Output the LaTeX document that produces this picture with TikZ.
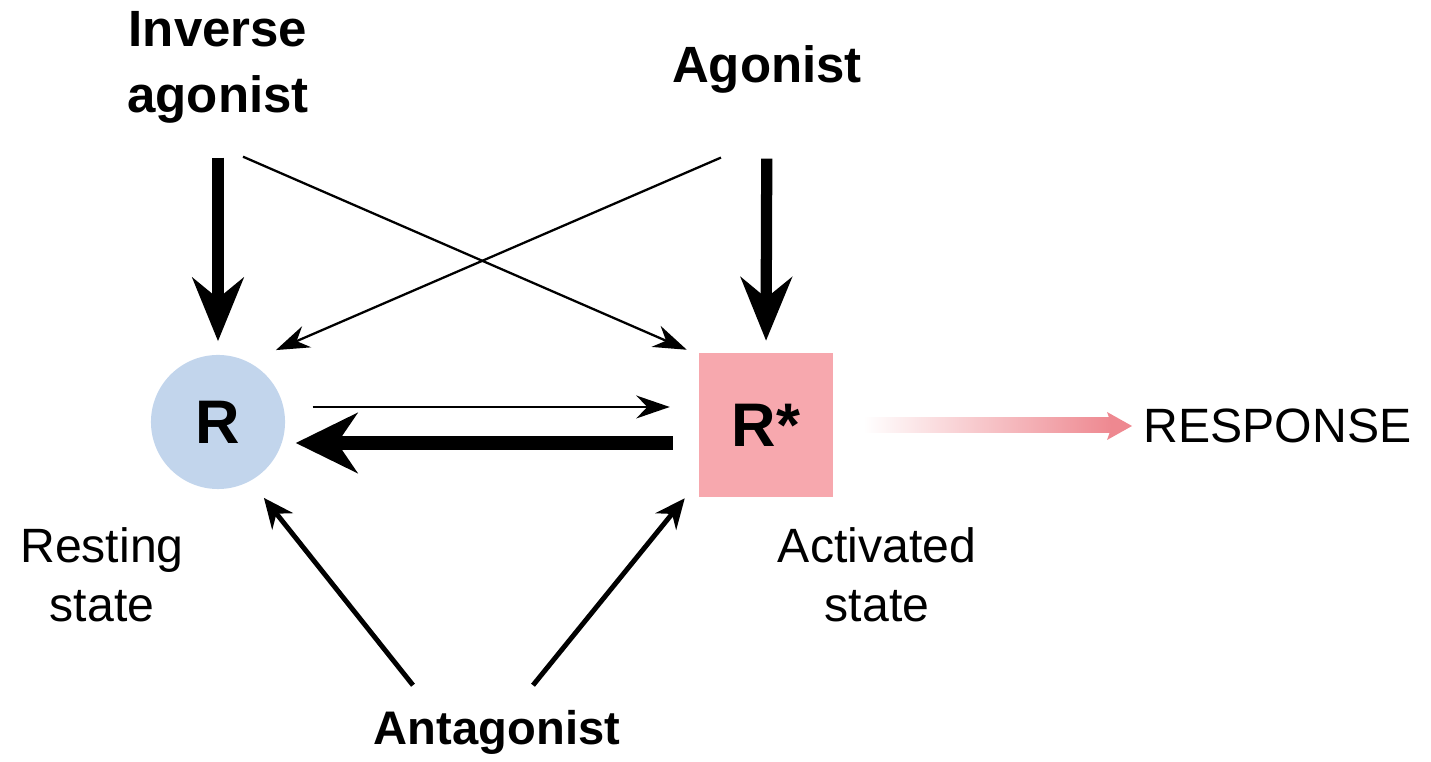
\documentclass[tikz,border=0pt]{standalone}
\usepackage{fontspec}
\setmainfont{Liberation Sans}
\usetikzlibrary{arrows.meta,calc}

\definecolor{restblue}{HTML}{C2D5EC}
\definecolor{actpink}{HTML}{F7A8AE}
\definecolor{resppink}{HTML}{EE8890}

\tikzset{
  ligand/.style={font=\fontsize{14.5}{18.8}\selectfont\bfseries, align=center, inner sep=0pt},
  statetext/.style={font=\fontsize{13.7}{16.8}\selectfont, align=center, inner sep=0pt},
  receptor/.style={font=\fontsize{17.5}{20}\selectfont\bfseries, inner sep=0pt},
  thinarrow/.style={line width=0.65pt, -{Stealth[length=9.5pt,width=6.5pt]}},
  heavyarrow/.style={line width=3.2pt, -{Stealth[length=18pt,width=14.5pt]}},
  backarrow/.style={line width=3.8pt, -{Stealth[length=17.5pt,width=17pt]}},
  blockarrow/.style={line width=1.4pt, -{Stealth[length=8.5pt,width=7.5pt]}},
}

\begin{document}
\begin{tikzpicture}[x=0.01cm, y=-0.01cm]
    \useasboundingbox (0,0) rectangle (1431,762);
    % 受容体
    \node[receptor, circle, fill=restblue, minimum size=1.34cm] (R) at (218,422) {R};
    \node[receptor, fill=actpink, minimum width=1.33cm, minimum height=1.43cm] (Rs) at (766,425) {R*};
    % ラベル
    \node[ligand] (inv) at (218,67) {Inverse\\agonist};
    \node[ligand] (ago) at (767,69) {Agonist};
    \node[ligand, font=\fontsize{13.4}{16}\selectfont\bfseries] (ant) at (497,732) {Antagonist};
    \node[statetext] (rest) at (102,575) {Resting\\state};
    \node[statetext] (act) at (877,575) {Activated\\state};
    \node[statetext, anchor=west] (resp) at (1143,426) {RESPONSE};

    % 矢印
    \draw[heavyarrow, shorten <=0.34cm, shorten >=0.13cm] (inv.south) -- (R.north);
    \draw[heavyarrow, shorten <=0.65cm, shorten >=0.12cm] (ago.south) -- (Rs.north);
    \draw[thinarrow] ($(inv.south)+(25,33)$) -- ($(Rs.north west)+(-12,-3)$);
    \draw[thinarrow] ($(ago.south)+(-46,64)$) -- ($(R.north east)+(10,-24)$);
    \draw[thinarrow] ($(R.east)+(27,-15)$) -- ($(Rs.west)+(-29,-18)$);
    \draw[backarrow] ($(Rs.west)+(-26,18)$) -- ($(R.east)+(10,21)$);
    \draw[blockarrow] ($(ant.north)+(-84,-24)$) -- ($(R.south east)+(-2,28)$);
    \draw[blockarrow] ($(ant.north)+(36,-24)$) -- ($(Rs.south west)+(-14,1)$);

    % 応答
    \shade[left color=white, right color=resppink] ($(Rs.east)+(30,-7)$) rectangle ($(resp.west)+(-30,7)$);
    \fill[resppink] ($(resp.west)+(-11,0)$) -- ++(-25,-14) -- ++(5,14) -- ++(-5,14) -- cycle;
\end{tikzpicture}
\end{document}
